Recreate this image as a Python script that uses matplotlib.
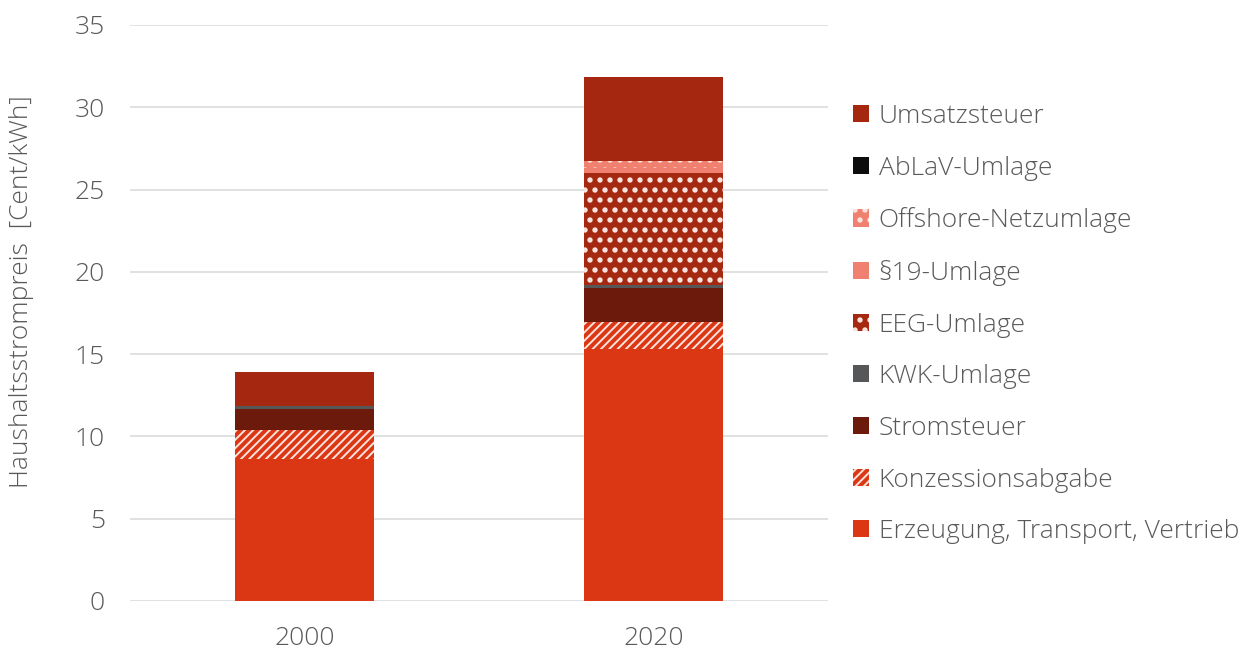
import matplotlib
matplotlib.use("Agg")
import matplotlib.pyplot as plt
from matplotlib.patches import Patch
from matplotlib.backend_bases import GraphicsContextBase
import matplotlib.hatch as mhatch
import numpy as np

plt.rcParams['font.family'] = ['Open Sans', 'DejaVu Sans']
plt.rcParams['hatch.linewidth'] = 1.4

# hatch texture density tuned to the reference (even values required)
_orig = GraphicsContextBase.get_hatch_path
def _dense_hatch(self, density=6.0):
    h = self.get_hatch()
    if h is not None and '/' in h:
        return _orig(self, density=12)
    return _orig(self, density=10)
GraphicsContextBase.get_hatch_path = _dense_hatch
mhatch.SmallFilledCircles.size = 0.17

years = ["2000", "2020"]
components = ["Erzeugung, Transport, Vertrieb", "Konzessionsabgabe", "Stromsteuer",
              "KWK-Umlage", "EEG-Umlage", "§19-Umlage", "Offshore-Netzumlage",
              "AbLaV-Umlage", "Umsatzsteuer"]
erzeugung = [8.62, 15.29]
konzession = [1.79, 1.66]
stromsteuer = [1.28, 2.05]
kwk = [0.13, 0.226]
eeg = [0.20, 6.756]
p19 = [0.0, 0.358]
offshore = [0.0, 0.416]
ablav = [0.0, 0.007]
umsatz = [1.92, 5.08]
series = [erzeugung, konzession, stromsteuer, kwk, eeg, p19, offshore, ablav, umsatz]

colors = ["#DC3714", "#DC3714", "#6B1A0C", "#555759", "#A52810", "#F08070",
          "#F08070", "#0D0D0D", "#A52710"]
hatches = [None, "//", None, None, ".", None, ".", None, None]

fig = plt.figure(figsize=(12.51, 6.53), dpi=100)
ax = fig.add_axes([130/1251, 1-601/653, 698/1251, 576/653])

x = np.arange(len(years))
bottom = np.zeros(len(years))
handles = []
for name, vals, c, h in zip(components, series, colors, hatches):
    vals = np.array(vals)
    if h:
        ax.bar(x, vals, 0.4, bottom=bottom, color=c, edgecolor="#FBE3DD",
               linewidth=0, hatch=h, zorder=3)
        handles.append(Patch(facecolor=c, edgecolor="#FBE3DD", linewidth=0, hatch=h, label=name))
    else:
        ax.bar(x, vals, 0.4, bottom=bottom, color=c, linewidth=0, zorder=3)
        handles.append(Patch(facecolor=c, linewidth=0, label=name))
    bottom += vals

ax.set_xlim(-0.5, 1.5)
ax.set_ylim(0, 35)
ax.set_yticks(np.arange(0, 36, 5))
ax.set_xticks(x)
ax.set_xticklabels(years)
ax.yaxis.grid(True, color="#D9D9D9", linewidth=1.1, zorder=0)
ax.set_axisbelow(True)
for s in ax.spines.values():
    s.set_visible(False)
ax.tick_params(axis="both", length=0, labelsize=19, labelcolor="#595959")
ax.tick_params(axis="y", pad=18)
ax.tick_params(axis="x", pad=18)
for lab in ax.get_xticklabels() + ax.get_yticklabels():
    lab.set_fontweight("light")

fig.text(22/1251, 1-292/653, "Haushaltsstrompreis  [Cent/kWh]", rotation=90,
         ha="center", va="center", fontsize=19, color="#595959", fontweight="light")

leg = fig.legend(handles[::-1], components[::-1], loc="upper left",
                 bbox_to_anchor=(853/1251, 1-104/653), frameon=False,
                 fontsize=19, handlelength=0.62, handleheight=0.62,
                 handletextpad=0.35, labelspacing=1.01, borderpad=0, borderaxespad=0)
for t in leg.get_texts():
    t.set_color("#595959")
    t.set_fontweight("light")

fig.savefig("out.png", dpi=100)
